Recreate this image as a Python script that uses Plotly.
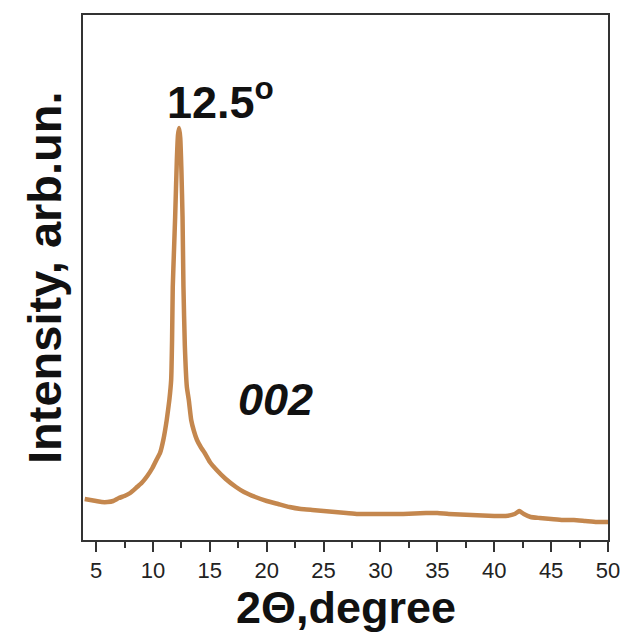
import plotly.graph_objects as go

two_theta = [4.0, 4.5, 5.0, 5.5, 6.0, 6.5, 7.0, 7.5, 8.0, 8.6, 9.0, 9.5, 9.95,
             10.3, 10.62, 10.91, 11.21, 11.44, 11.6, 11.68, 11.74, 11.85, 11.95,
             12.1, 12.2, 12.3, 12.4, 12.5, 12.6, 12.68, 12.8, 12.98, 13.15, 13.36,
             13.6, 13.87, 14.2, 14.6, 15.0, 15.6, 16.4, 17.3, 18.0, 19.0, 20.0,
             21.0, 22.0, 23.0, 24.0, 25.0, 26.0, 27.0, 28.0, 30.0, 32.0, 34.0,
             35.0, 36.0, 38.0, 40.0, 41.0, 41.8, 42.2, 42.6, 43.2, 44.0, 45.0,
             46.0, 47.0, 48.0, 49.0, 50.0]
intensity = [41, 40, 39, 38, 38, 39, 42, 44, 47, 53, 57, 64, 72,
             80, 87, 100, 120, 140, 160, 200, 253, 290, 323,
             380, 405, 412, 402, 370, 323, 253, 195, 153, 140, 120,
             109, 100, 93, 86, 78, 70, 61, 53, 48, 43, 39,
             36, 33, 31, 30, 29, 28, 27, 26, 26, 26, 27,
             27, 26, 25, 24, 24, 26, 29, 26, 23, 22, 21,
             20, 20, 19, 18, 18]

x_ticks = [5, 10, 15, 20, 25, 30, 35, 40, 45, 50]
x_range = [3.85, 50]
y_range = [0, 525]

line_color = "#C4874E"
axis_color = "#333333"
font_family = "Liberation Sans, Arial, sans-serif"

fig = go.Figure()
fig.add_trace(go.Scatter(x=two_theta, y=intensity, mode="lines",
                         line=dict(color=line_color, width=4.5, shape="spline", smoothing=0.4),
                         showlegend=False, hoverinfo="skip"))

fig.update_layout(
    width=622, height=632,
    margin=dict(l=83, r=14, t=15, b=92, autoexpand=False),
    paper_bgcolor="white", plot_bgcolor="white",
    font=dict(family=font_family, color="#111111"),
)

fig.update_xaxes(
    range=x_range, tickvals=x_ticks, ticktext=[str(t) for t in x_ticks],
    ticks="outside", ticklen=10, tickwidth=2, tickcolor=axis_color,
    minor=dict(ticks="outside", ticklen=6, tickwidth=2, tickcolor=axis_color, dtick=2.5, tick0=2.5),
    showline=True, linecolor=axis_color, linewidth=2, mirror=True,
    showgrid=False, zeroline=False, automargin=False,
    tickfont=dict(size=22, color="#222222", family=font_family),
)
fig.update_yaxes(
    range=y_range, showticklabels=False, ticks="",
    showline=True, linecolor=axis_color, linewidth=2, mirror=True,
    showgrid=False, zeroline=False, automargin=False,
)

fig.add_annotation(text="<b>2Θ,degree</b>", xref="paper", yref="paper", x=0.5, y=0,
                   yanchor="top", yshift=-40, showarrow=False,
                   font=dict(size=45, color="#111111", family=font_family))
fig.add_annotation(text="<b>Intensity, arb.un.</b>", xref="paper", yref="paper", x=0, y=0.5,
                   xanchor="right", xshift=-10, textangle=-90, showarrow=False,
                   font=dict(size=47, color="#111111", family=font_family))
fig.add_annotation(text="<b>12.5<sup>o</sup></b>", xref="x", yref="y", x=11.06, y=441,
                   xanchor="left", yanchor="middle", showarrow=False,
                   font=dict(size=45, color="#111111", family=font_family))
fig.add_annotation(text="<b><i>002</i></b>", xref="x", yref="y", x=20.75, y=141,
                   xanchor="center", yanchor="middle", showarrow=False,
                   font=dict(size=45, color="#111111", family=font_family))

fig.write_html("out.html", config={"displayModeBar": False},
               post_script="document.body.style.margin='0';document.body.style.overflow='hidden';")
